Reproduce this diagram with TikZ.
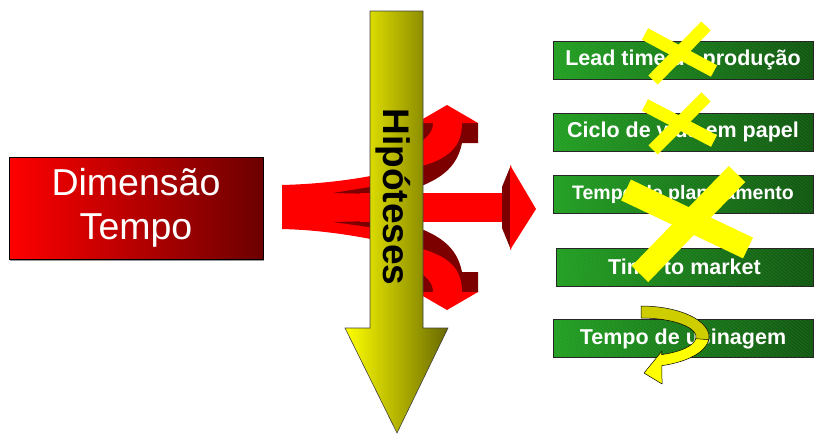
\documentclass[tikz,border=0pt]{standalone}
\usepackage{fontspec}
\setmainfont{Liberation Sans}

\definecolor{redA}{RGB}{255,0,0}
\definecolor{redB}{RGB}{108,0,0}
\definecolor{redDark}{RGB}{125,0,0}
\definecolor{yelA}{RGB}{255,255,0}
\definecolor{yelB}{RGB}{105,105,0}
\definecolor{yelBack}{RGB}{205,205,0}
\definecolor{grnA}{RGB}{30,158,30}
\definecolor{grnB}{RGB}{12,84,12}

\begin{document}
\begin{tikzpicture}[x=1pt,y=-1pt,
  dimbox/.style={draw=black, line width=0.7pt, left color=redA, right color=redB,
    minimum width=254pt, minimum height=102pt, inner sep=0pt, text=white,
    align=center, font=\fontsize{37.5}{44}\selectfont},
  topicbox/.style={draw=black!85, line width=0.6pt, left color=grnA, right color=grnB,
    minimum height=38pt, inner sep=0pt, text=white,
    font=\bfseries\fontsize{21.5}{23}\selectfont,
    path picture={\foreach \k in {-110,-106,...,262}
      \draw[white, opacity=0.09, line width=0.5pt]
        ([xshift=\k pt]path picture bounding box.south west) -- ++(104,-38);}},
  strike/.style={draw=yelA, line cap=butt},
  redface/.style={fill=redA},
  redside/.style={fill=redDark},
  rib/.style={draw=black, line width=0.5pt, line join=round}
]
\useasboundingbox (0,0) rectangle (814,434);

% ---- source box ----
\fill[black!40] (10,160) rectangle (264,261);
\node[dimbox] (dim) at (136,208) {Dimensão\\Tempo};

% ---- red fan leaving the source box ----
\fill[redface] (282,185) .. controls (320,184) and (350,180) .. (376,175)
  -- (376,240) .. controls (350,235) and (320,230) .. (282,229) -- cycle;
\fill[redside] (333,193) -- (376,186) -- (376,194) -- cycle;
\fill[redside] (333,222) -- (376,221) -- (376,228) -- cycle;

% straight branch
\fill[redface] (360,193) rectangle (511,222);
\fill[redside] (511,165) -- (502,187) -- (502,228) -- (511,250) -- cycle;
\fill[redface] (510,165) -- (536,209) -- (510,250) -- cycle;

% upper branch
\fill[redside] (400,123) -- (478,123) -- (478,143) -- (462,143)
  .. controls (457,168) and (440,182) .. (400,193) -- cycle;
\fill[redface] (433,123) -- (462,123) .. controls (462,150) and (445,163) .. (400,171)
  -- (400,152) .. controls (428,141) and (433,132) .. (433,123) -- cycle;
\fill[redface] (416,123) -- (447,105) -- (478,123) -- cycle;

% lower branch
\fill[redside] (400,292) -- (478,292) -- (478,272) -- (462,272)
  .. controls (457,247) and (440,233) .. (400,222) -- cycle;
\fill[redface] (433,292) -- (462,292) .. controls (462,265) and (445,252) .. (400,244)
  -- (400,263) .. controls (428,274) and (433,283) .. (433,292) -- cycle;
\fill[redface] (416,292) -- (447,310) -- (478,292) -- cycle;

% ---- hypotheses arrow ----
\path[draw=black!75, line width=0.6pt, left color=yelA, right color=yelB]
  (370,11) -- (423,11) -- (423,328) -- (448,328) -- (397,433)
  -- (345,328) -- (370,328) -- cycle;
\node[rotate=-90, anchor=base, font=\bfseries\fontsize{37}{40}\selectfont]
  (hip) at (383,197) {Hipóteses};

% ---- topic boxes ----
\node[topicbox, minimum width=260pt] (t1) at (683,60)  {Lead time de produção};
\node[topicbox, minimum width=260pt] (t2) at (683,132) {Ciclo de vida em papel};
\node[topicbox, minimum width=260pt, font=\bfseries\fontsize{19.5}{22}\selectfont]
  (t3) at (683,194) {Tempo de planejamento};
\node[topicbox, minimum width=257pt] (t4) at (684.5,267) {Time to market};
\node[topicbox, minimum width=260pt] (t5) at (683,338.5) {Tempo de usinagem};

% ---- strike-outs ----
\draw[strike, line width=13pt] (645,34) -- (714,71);
\draw[strike, line width=13pt] (706,26) -- (653,80);
\draw[strike, line width=13pt] (645,105) -- (714,141);
\draw[strike, line width=13pt] (706,97) -- (653,150);
\draw[strike, line width=23pt] (626,190) -- (748,248);
\draw[strike, line width=23pt] (737,174) -- (640,274);

% ---- turning ribbon around the last box ----
% back half
\filldraw[rib, fill=yelBack] (641,306) arc[start angle=-90, end angle=10, x radius=68, y radius=31]
  -- (695.2,340.3) arc[start angle=10, end angle=-90, x radius=55, y radius=19] -- cycle;
% front half with arrow head
\filldraw[rib, fill=yelA] (708.7,339.7) arc[start angle=5, end angle=72, x radius=68, y radius=30]
  -- (662,384) -- (644,373) -- (662,351)
  -- (661.6,354.6) arc[start angle=68, end angle=5, x radius=55, y radius=19] -- cycle;
\end{tikzpicture}
\end{document}
